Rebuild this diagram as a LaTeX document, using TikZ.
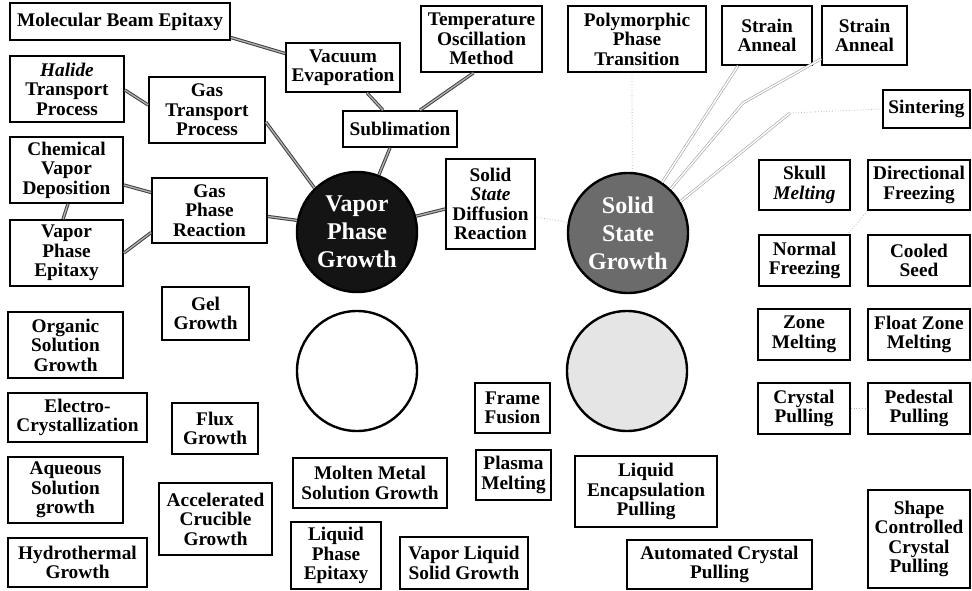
\documentclass[tikz,border=0pt]{standalone}
\usepackage{fontspec}
\setmainfont{Liberation Serif}
\tikzset{
 box/.style={draw=black, line width=1.7pt, fill=white, align=center, inner sep=1pt, font={\fontsize{19.3}{19.5}\selectfont\bfseries}},
 circ/.style={circle, draw=black, line width=2.4pt, minimum size=120pt, inner sep=0pt, align=center, font={\fontsize{24}{28}\selectfont\bfseries}},
 vline/.style={draw=black!75, line width=1pt, double=gray!60, double distance=1.3pt},
 sline/.style={draw=gray!75, line width=0.6pt, double=white, double distance=1.5pt},
 faint/.style={draw=gray!55, dotted, line width=0.8pt},
}
\newcommand\bx[6]{\node[box, minimum width={(#4-#2)*1pt}, minimum height={(#5-#3)*1pt}] (#1) at ({(#2+#4)/2},{(#3+#5)/2}) {#6};}
\begin{document}
\begin{tikzpicture}[x=1pt,y=-1pt]
\useasboundingbox (0,0) rectangle (972,591);
% circles
\node[circ, fill=black!92, text=white] (vpg) at (357,232) {Vapor\\Phase\\Growth};
\node[circ, fill=black!58, text=white] (ssg) at (628,233) {Solid\\State\\Growth};
\node[circ, fill=white] (ec) at (357,371) {};
\node[circ, fill=black!10] (lc) at (627,371) {};
% vapor side boxes
\bx{mbe}{10}{3}{230}{40}{Molecular Beam Epitaxy}
\bx{hal}{10}{56}{124}{122}{{\itshape Halide}\\Transport\\Process}
\bx{gt}{149}{77}{265}{143}{Gas\\Transport\\Process}
\bx{ve}{286}{43}{400}{92}{Vacuum\\Evaporation}
\bx{tom}{421}{6}{542}{72}{Temperature\\Oscillation\\Method}
\bx{sub}{343}{111}{457}{147}{Sublimation}
\bx{cvd}{10}{137}{123}{203}{Chemical\\Vapor\\Deposition}
\bx{gpr}{152}{178}{267}{243}{Gas\\Phase\\Reaction}
\bx{vpe}{10}{220}{123}{286}{Vapor\\Phase\\Epitaxy}
\bx{ssdr}{446}{159}{535}{249}{Solid\\{\itshape State}\\Diffusion\\Reaction}
% solid side boxes
\bx{ppt}{568}{6}{706}{72}{Polymorphic\\Phase\\Transition}
\bx{sa1}{722}{6}{812}{65}{Strain\\Anneal}
\bx{sa2}{822}{6}{907}{65}{Strain\\Anneal}
\bx{sin}{883}{90}{970}{128}{Sintering}
\bx{sm}{759}{160}{850}{210}{Skull\\{\itshape Melting}}
\bx{df}{868}{160}{970}{210}{Directional\\Freezing}
\bx{nf}{759}{235}{850}{286}{Normal\\Freezing}
\bx{cs}{868}{235}{970}{286}{Cooled\\Seed}
\bx{zm}{758}{309}{850}{360}{Zone\\Melting}
\bx{fzm}{868}{309}{970}{360}{Float Zone\\Melting}
\bx{cp}{758}{383}{850}{434}{Crystal\\Pulling}
\bx{pp}{868}{383}{970}{434}{Pedestal\\Pulling}
\bx{scp}{868}{490}{970}{588}{Shape\\Controlled\\Crystal\\Pulling}
\bx{acp}{627}{540}{812}{589}{Automated Crystal\\Pulling}
\bx{lep}{575}{456}{717}{527}{Liquid\\Encapsulation\\Pulling}
\bx{pm}{476}{450}{551}{500}{Plasma\\Melting}
\bx{ff}{475}{383}{550}{433}{Frame\\Fusion}
% solution side boxes
\bx{mmsg}{293}{458}{447}{508}{Molten Metal\\Solution Growth}
\bx{lpe}{291}{522}{381}{589}{Liquid\\Phase\\Epitaxy}
\bx{vls}{400}{537}{528}{589}{Vapor Liquid\\Solid Growth}
\bx{gel}{162}{287}{249}{340}{Gel\\Growth}
\bx{osg}{8}{312}{123}{378}{Organic\\Solution\\Growth}
\bx{ecr}{8}{393}{147}{442}{Electro-\\Crystallization}
\bx{flux}{172}{403}{258}{454}{Flux\\Growth}
\bx{asg}{8}{457}{123}{523}{Aqueous\\Solution\\growth}
\bx{acg}{159}{483}{272}{555}{Accelerated\\Crucible\\Growth}
\bx{hg}{8}{538}{147}{587}{Hydrothermal\\Growth}
% connectors (vapor side)
\draw[vline] ([yshift=-16pt]mbe.east) -- ([yshift=14pt]ve.west);
\draw[vline] ([yshift=-1pt]hal.east) -- ([yshift=5pt]gt.west);
\draw[vline] ([yshift=-12pt]gt.east) -- (vpg.134);
\draw[vline] ([xshift=24pt]ve.south) -- ([xshift=-17pt]sub.north);
\draw[vline] ([xshift=-8pt]tom.south) -- ([xshift=20pt]sub.north);
\draw[vline] ([xshift=-10pt]sub.south) -- (vpg.69);
\draw[vline] ([yshift=-15pt]cvd.east) -- ([yshift=18pt]gpr.west);
\draw[vline] (vpe.east) -- ([yshift=-22pt]gpr.west);
\draw[vline] ([xshift=1.5pt]cvd.south) -- ([xshift=-3.5pt]vpe.north);
\draw[vline] ([yshift=-6pt]gpr.east) -- (vpg.169);
\draw[vline] (vpg.15) -- ([yshift=-5pt]ssdr.west);
% connectors (solid side)
\draw[faint] ([yshift=-13pt]ssdr.east) -- (ssg.170);
\coordinate (b1) at (743,103);
\coordinate (b2) at (790,113);
\draw[sline] (ssg.56) -- ([xshift=-29pt]sa1.south);
\draw[sline] (ssg.46) -- (b1) -- ([yshift=7pt]sa2.south west);
\draw[sline] (ssg.31) -- (b2);
\draw[faint] (b2) -- (sin.west);
\draw[faint] ([xshift=-5pt]ppt.south) -- (ssg.86);
\draw[faint] (df.south west) -- ([xshift=-3pt]nf.north east);
\draw[faint] (cp.east) -- (pp.west);
\end{tikzpicture}
\end{document}
